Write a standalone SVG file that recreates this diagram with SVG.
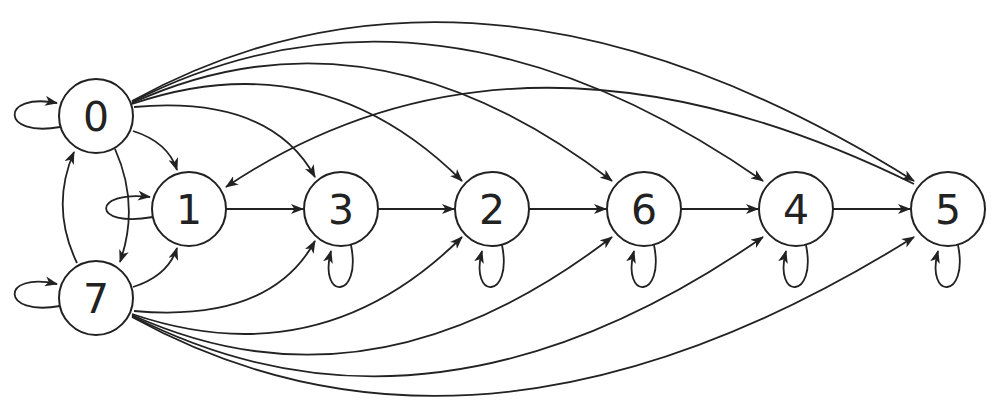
<svg xmlns="http://www.w3.org/2000/svg" width="1000" height="415" viewBox="0 0 1000 415">
<style>
.n circle{fill:#fff;stroke:#222;stroke-width:2}
.n text{font-family:"DejaVu Sans","Liberation Sans",sans-serif;font-size:41px;fill:#222;text-anchor:middle}
#edges path{fill:none;stroke:#222;stroke-width:1.8;marker-end:url(#a)}
</style>
<defs><marker id="a" markerUnits="userSpaceOnUse" markerWidth="14" markerHeight="10" refX="12" refY="5" orient="auto"><path d="M0,0 L13,5 L0,10 L3.5,5z" fill="#222"/></marker></defs>
<rect width="1000" height="415" fill="#fff"/>
<g id="edges">
<path d="M60,127 C0,138 0,92 57,103"/>
<path d="M60,306 C0,317 0,271 57,284"/>
<path d="M153,217 C90,228 92,190 150,197"/>
<path d="M351,245 C362,300 318,300 331,251"/>
<path d="M502,245 C513,300 469,300 482,251"/>
<path d="M654,245 C665,300 621,300 634,251"/>
<path d="M806,245 C817,300 773,300 786,251"/>
<path d="M958,245 C969,300 925,300 938,251"/>
<path d="M226,209 L303,209"/>
<path d="M378,209 L454,209"/>
<path d="M529,209 L606,209"/>
<path d="M681,209 L758,209"/>
<path d="M833,209 L910,209"/>
<path d="M133,131 Q168,142 177,170"/>
<path d="M134,107 Q270,95 315,177"/>
<path d="M132,104 Q320,40 462,181"/>
<path d="M132,103 Q370,-5 612,181"/>
<path d="M132,102 Q430,-50 763,181"/>
<path d="M132,101 Q480,-90 914,181"/>
<path d="M115,149 Q140,205 120,262"/>
<path d="M77,263 Q50,207 74,152"/>
<path d="M133,287 Q168,276 177,248"/>
<path d="M134,311 Q270,323 315,241"/>
<path d="M132,314 Q320,378 462,237"/>
<path d="M132,315 Q370,423 612,237"/>
<path d="M132,316 Q430,468 763,237"/>
<path d="M132,317 Q480,508 914,237"/>
<path d="M914,184 Q520,-10 226,187"/>
</g>
<g id="n0" class="n"><circle cx="96" cy="116" r="37"/><text x="96" y="131">0</text></g>
<g id="n7" class="n"><circle cx="96" cy="298" r="37"/><text x="96" y="313">7</text></g>
<g id="n1" class="n"><circle cx="189" cy="209" r="37"/><text x="189" y="224">1</text></g>
<g id="n3" class="n"><circle cx="341" cy="209" r="37"/><text x="341" y="224">3</text></g>
<g id="n2" class="n"><circle cx="492" cy="209" r="37"/><text x="492" y="224">2</text></g>
<g id="n6" class="n"><circle cx="644" cy="209" r="37"/><text x="644" y="224">6</text></g>
<g id="n4" class="n"><circle cx="796" cy="209" r="37"/><text x="796" y="224">4</text></g>
<g id="n5" class="n"><circle cx="948" cy="209" r="37"/><text x="948" y="224">5</text></g>
</svg>
